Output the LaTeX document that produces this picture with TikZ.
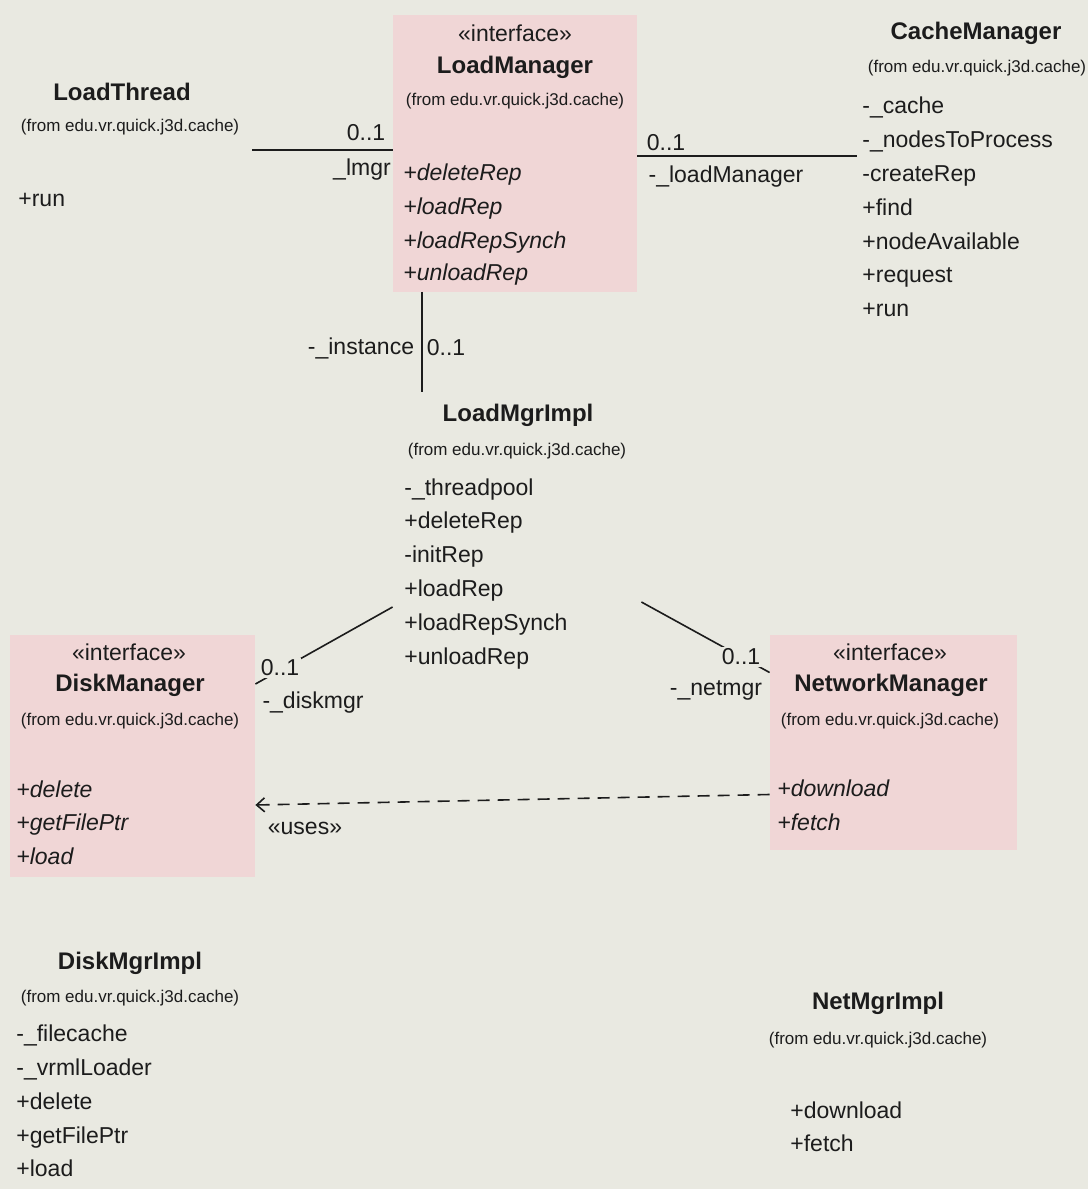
\documentclass[tikz,border=0pt]{standalone}
\usepackage{fontspec}
\setmainfont{Liberation Sans}
\usetikzlibrary{arrows.meta}

\definecolor{umlbg}{RGB}{233,233,225}
\definecolor{umlpink}{RGB}{240,214,214}
\definecolor{umlink}{RGB}{28,28,28}

\tikzset{
  ibox/.style={inner sep=0pt,fill=umlpink},
  cbox/.style={inner sep=0pt},
  stereo/.style={text=umlink,inner sep=0pt,font=\fontsize{11.5}{13}\selectfont},
  cname/.style={text=umlink,inner sep=0pt,font=\bfseries\fontsize{12}{14}\selectfont},
  pkg/.style={text=umlink,inner sep=0pt,font=\fontsize{8.5}{10}\selectfont},
  member/.style={text=umlink,anchor=base west,yshift=-4pt,inner sep=0pt,font=\fontsize{11.5}{13}\selectfont},
  amember/.style={member,font=\itshape\fontsize{11.5}{13}\selectfont},
  role/.style={text=umlink,inner sep=1pt,fill=umlbg,font=\fontsize{11.5}{13}\selectfont},
  assoc/.style={draw=umlink,line width=0.8pt},
  uses/.style={draw=umlink,line width=0.8pt,dash pattern=on 6pt off 4pt,-{Straight Barb[length=4pt,width=7pt]}}
}

\begin{document}
\begin{tikzpicture}[x=0.5pt,y=0.5pt]
  \fill[umlbg] (0,0) rectangle (1088,-1189);

  % class boxes
  \node[ibox,minimum width=122pt,minimum height=138.5pt] (lmgr) at (515,-153) {};
  \node[ibox,minimum width=122.5pt,minimum height=121pt] (dmgr) at (132.5,-756) {};
  \node[ibox,minimum width=123.5pt,minimum height=107.5pt] (nmgr) at (893.5,-742.5) {};
  \node[cbox,minimum width=121pt,minimum height=75pt] (lthread) at (131,-150) {};
  \node[cbox,minimum width=114pt,minimum height=150pt] (cmgr) at (971,-156) {};
  \node[cbox,minimum width=124pt,minimum height=144pt] (impl) at (517,-536) {};

  % LoadManager
  \node[stereo] (lmgr-st) at (515,-33) {«interface»};
  \node[cname] (lmgr-name) at (515,-67) {LoadManager};
  \node[pkg] (lmgr-pkg) at (515,-101) {(from edu.vr.quick.j3d.cache)};
  \node[amember] (lmgr-m1) at (403,-172) {+deleteRep};
  \node[amember] (lmgr-m2) at (403,-206) {+loadRep};
  \node[amember] (lmgr-m3) at (403,-240) {+loadRepSynch};
  \node[amember] (lmgr-m4) at (403,-272) {+unloadRep};

  % LoadThread
  \node[cname] (lthread-name) at (122,-92) {LoadThread};
  \node[pkg] (lthread-pkg) at (130,-127) {(from edu.vr.quick.j3d.cache)};
  \node[member] (lthread-m1) at (18,-198) {+run};

  % CacheManager
  \node[cname] (cmgr-name) at (976,-33) {CacheManager};
  \node[pkg] (cmgr-pkg) at (977,-68) {(from edu.vr.quick.j3d.cache)};
  \node[member] (cmgr-m1) at (862,-105) {-\_cache};
  \node[member] (cmgr-m2) at (862,-139) {-\_nodesToProcess};
  \node[member] (cmgr-m3) at (862,-173) {-createRep};
  \node[member] (cmgr-m4) at (862,-207) {+find};
  \node[member] (cmgr-m5) at (862,-241) {+nodeAvailable};
  \node[member] (cmgr-m6) at (862,-274) {+request};
  \node[member] (cmgr-m7) at (862,-308) {+run};

  % LoadMgrImpl
  \node[cname] (impl-name) at (518,-415) {LoadMgrImpl};
  \node[pkg] (impl-pkg) at (517,-451) {(from edu.vr.quick.j3d.cache)};
  \node[member] (impl-m1) at (404,-487) {-\_threadpool};
  \node[member] (impl-m2) at (404,-520) {+deleteRep};
  \node[member] (impl-m3) at (404,-554) {-initRep};
  \node[member] (impl-m4) at (404,-588) {+loadRep};
  \node[member] (impl-m5) at (404,-622) {+loadRepSynch};
  \node[member] (impl-m6) at (404,-656) {+unloadRep};

  % DiskManager
  \node[stereo] (dmgr-st) at (129,-652) {«interface»};
  \node[cname] (dmgr-name) at (130,-685) {DiskManager};
  \node[pkg] (dmgr-pkg) at (130,-721) {(from edu.vr.quick.j3d.cache)};
  \node[amember] (dmgr-m1) at (16,-789) {+delete};
  \node[amember] (dmgr-m2) at (16,-822) {+getFilePtr};
  \node[amember] (dmgr-m3) at (16,-856) {+load};

  % NetworkManager
  \node[stereo] (nmgr-st) at (890,-652) {«interface»};
  \node[cname] (nmgr-name) at (891,-685) {NetworkManager};
  \node[pkg] (nmgr-pkg) at (890,-721) {(from edu.vr.quick.j3d.cache)};
  \node[amember] (nmgr-m1) at (777,-788) {+download};
  \node[amember] (nmgr-m2) at (777,-822) {+fetch};

  % DiskMgrImpl
  \node[cname] (dimpl-name) at (130,-963) {DiskMgrImpl};
  \node[pkg] (dimpl-pkg) at (130,-998) {(from edu.vr.quick.j3d.cache)};
  \node[member] (dimpl-m1) at (16,-1033) {-\_filecache};
  \node[member] (dimpl-m2) at (16,-1067) {-\_vrmlLoader};
  \node[member] (dimpl-m3) at (16,-1101) {+delete};
  \node[member] (dimpl-m4) at (16,-1135) {+getFilePtr};
  \node[member] (dimpl-m5) at (16,-1168) {+load};

  % NetMgrImpl
  \node[cname] (nimpl-name) at (878,-1003) {NetMgrImpl};
  \node[pkg] (nimpl-pkg) at (878,-1040) {(from edu.vr.quick.j3d.cache)};
  \node[member] (nimpl-m1) at (790,-1110) {+download};
  \node[member] (nimpl-m2) at (790,-1143) {+fetch};

  % connectors
  \draw[assoc] (lthread.east) -- (lmgr.west |- lthread.east);
  \draw[assoc] (lmgr.east |- cmgr.west) -- (cmgr.west);
  \draw[assoc] ([xshift=-46.5pt]lmgr.south) -- ([xshift=-46.5pt]lmgr.south |- impl.north);
  \draw[assoc] ([yshift=-35.5pt]impl.west) -- ([yshift=36pt]dmgr.east);
  \draw[assoc] ([yshift=-33pt]impl.east) -- ([yshift=35pt]nmgr.west);
  \draw[uses] ([yshift=-26pt]nmgr.west) -- ([yshift=-24.5pt]dmgr.east);

  % roles and multiplicities
  \node[role] (lthread-mult) at (366,-133) {0..1};
  \node[role] (lthread-role) at (362,-170) {\_lmgr};
  \node[role] (cmgr-mult) at (666,-143) {0..1};
  \node[role] (cmgr-role) at (726,-177) {-\_loadManager};
  \node[role] (impl-role) at (361,-348) {-\_instance};
  \node[role] (impl-mult) at (446,-348) {0..1};
  \node[role] (dmgr-mult) at (280,-668) {0..1};
  \node[role] (dmgr-role) at (313,-703) {-\_diskmgr};
  \node[role] (nmgr-mult) at (741,-657) {0..1};
  \node[role] (nmgr-role) at (716,-690) {-\_netmgr};
  \node[role] (uses-label) at (305,-828) {«uses»};
\end{tikzpicture}
\end{document}
